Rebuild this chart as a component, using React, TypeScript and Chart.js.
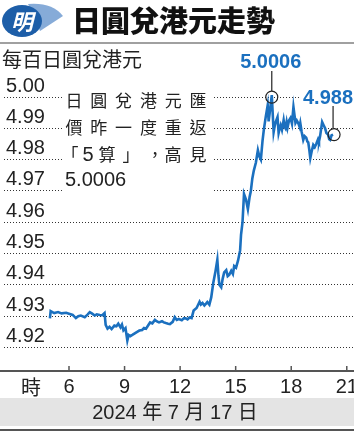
import React, { useEffect, useRef } from "react";
import { Chart, registerables } from "chart.js";

Chart.register(...registerables);

// ---- data ----
const hours = [
  4.97, 5.01, 5.2, 5.41, 5.6, 5.85, 6.0, 6.2, 6.37, 6.5, 6.64, 6.85, 7.0, 7.12, 7.25, 7.39, 7.5, 7.66, 7.8, 7.92,
  7.98, 8.08, 8.19, 8.3, 8.45, 8.56, 8.66, 8.78, 8.86, 8.94, 9.05, 9.15, 9.22, 9.31, 9.42, 9.55, 9.68, 9.8, 9.95,
  10.05, 10.16, 10.27, 10.38, 10.5, 10.64, 10.75, 10.86, 11.02, 11.12, 11.23, 11.35, 11.45, 11.6, 11.71, 11.82,
  11.93, 12.09, 12.2, 12.3, 12.4, 12.51, 12.62, 12.73, 12.89, 13.05, 13.12, 13.21, 13.31, 13.4, 13.47, 13.58,
  13.68, 13.79, 13.9, 14.01, 14.07, 14.12, 14.22, 14.3, 14.38, 14.49, 14.57, 14.65, 14.76, 14.85, 14.92, 15.02,
  15.13, 15.24, 15.29, 15.37, 15.45, 15.56, 15.66, 15.75, 15.82, 15.9, 15.98, 16.09, 16.2, 16.28, 16.36, 16.45,
  16.52, 16.62, 16.73, 16.78, 16.86, 16.95, 17.05, 17.1, 17.16, 17.26, 17.32, 17.38, 17.43, 17.5, 17.59, 17.64,
  17.69, 17.75, 17.8, 17.88, 17.96, 18.04, 18.12, 18.18, 18.23, 18.3, 18.39, 18.45, 18.49, 18.56, 18.65, 18.72,
  18.81, 18.87, 18.92, 18.98, 19.03, 19.1, 19.19, 19.27, 19.35, 19.45, 19.5, 19.56, 19.62, 19.67, 19.75, 19.83,
  19.9, 19.99, 20.05, 20.1, 20.18, 20.26,
];
const rates = [
  4.9293, 4.9316, 4.931, 4.9313, 4.9309, 4.9311, 4.9308, 4.9304, 4.9294, 4.93, 4.9302, 4.9297, 4.9305, 4.9313,
  4.9308, 4.9302, 4.9306, 4.9304, 4.9303, 4.931, 4.9272, 4.926, 4.9266, 4.9259, 4.927, 4.9268, 4.9276, 4.9264,
  4.9273, 4.9255, 4.9262, 4.9222, 4.924, 4.9236, 4.924, 4.9245, 4.925, 4.9254, 4.9256, 4.9262, 4.926, 4.927,
  4.928, 4.9277, 4.9288, 4.9283, 4.928, 4.9284, 4.928, 4.9278, 4.9276, 4.9275, 4.9282, 4.9297, 4.9288, 4.9291,
  4.9287, 4.9293, 4.9293, 4.929, 4.9296, 4.9294, 4.9318, 4.9326, 4.9346, 4.9337, 4.9342, 4.9334, 4.934, 4.9345,
  4.9337, 4.936, 4.9406, 4.944, 4.948, 4.943, 4.94, 4.9392, 4.942, 4.944, 4.9447, 4.9428, 4.9432, 4.9445,
  4.9435, 4.946, 4.9455, 4.9478, 4.951, 4.956, 4.96, 4.969, 4.9672, 4.9642, 4.968, 4.97, 4.974, 4.9765, 4.979,
  4.983, 4.981, 4.98, 4.986, 4.9895, 4.9935, 4.9974, 4.9922, 4.996, 5.0006, 4.9888, 4.9905, 4.992, 4.9936,
  4.9885, 4.99, 4.991, 4.9895, 4.9926, 4.9905, 4.99, 4.992, 4.9902, 4.9925, 4.9933, 4.9915, 4.9968, 4.994,
  4.9917, 4.9925, 4.9915, 4.9905, 4.9917, 4.989, 4.9863, 4.9875, 4.987, 4.9858, 4.9855, 4.983, 4.9805, 4.9825,
  4.9847, 4.984, 4.985, 4.9865, 4.9858, 4.9875, 4.99, 4.992, 4.991, 4.99, 4.9885, 4.988, 4.9865, 4.9863,
  4.9878, 4.988,
];
const xTicks = [6, 9, 12, 15, 18, 21];
const yTicks = [4.92, 4.93, 4.94, 4.95, 4.96, 4.97, 4.98, 4.99, 5.0];
const titleText = "日圓兌港元走勢";
const logoChar = "明";
const unitText = "每百日圓兌港元";
const hourText = "時";
const dateText = "2024 年 7 月 17 日";
const noteLine1 = "日圓兌港元匯";
const noteLine2 = "價昨一度重返";
const noteLine3 = ["「", "5", "算", "」", "，", "高", "見"];
const noteLine4 = "5.0006";
const peakLabel = "5.0006";
const lastLabel = "4.988";

const LATIN = "'Liberation Sans', Arial, sans-serif";
const CJK = "'Noto Sans CJK TC', 'Noto Sans CJK SC', sans-serif";
const MIXED = "'Liberation Sans', 'Noto Sans CJK TC', sans-serif";
const BLUE = "#1b70bf";

export default function App() {
  const ref = useRef<HTMLCanvasElement>(null);

  useEffect(() => {
    const canvas = ref.current;
    if (!canvas) return;

    const deco = {
      id: "deco",
      beforeDraw(chart: any) {
        const { ctx } = chart;
        ctx.save();
        ctx.fillStyle = "#ffffff";
        ctx.fillRect(0, 0, chart.width, chart.height);

        // logo
        ctx.fillStyle = "#86abd8";
        ctx.beginPath();
        ctx.moveTo(28, 4);
        ctx.quadraticCurveTo(52, 2, 63, 16);
        ctx.lineTo(40, 31);
        ctx.closePath();
        ctx.fill();
        ctx.fillStyle = "#1d5ea8";
        ctx.beginPath();
        ctx.ellipse(22, 21, 20, 16, 0, 0, Math.PI * 2);
        ctx.fill();
        ctx.fillStyle = "#ffffff";
        ctx.font = `italic bold 22px ${CJK}`;
        ctx.textAlign = "center";
        ctx.textBaseline = "middle";
        ctx.fillText(logoChar, 22, 22);

        // title
        ctx.fillStyle = "#111";
        ctx.font = `900 29px ${CJK}`;
        ctx.textAlign = "left";
        ctx.fillText(titleText, 72, 21);

        // separator
        ctx.strokeStyle = "#a0a0a0";
        ctx.lineWidth = 2;
        ctx.beginPath();
        ctx.moveTo(0, 43);
        ctx.lineTo(354, 43);
        ctx.stroke();

        // unit
        ctx.fillStyle = "#222";
        ctx.font = `20px ${CJK}`;
        ctx.fillText(unitText, 2, 59);
        ctx.restore();
      },
      beforeDatasetsDraw(chart: any) {
        const { ctx, chartArea, scales } = chart;
        const xs = scales.x;
        ctx.save();
        // note box
        ctx.fillStyle = "#ffffff";
        ctx.fillRect(62, 88, 150, 107);
        ctx.fillRect(300, 89, 54, 17);

        ctx.fillStyle = "#222";
        ctx.textAlign = "center";
        ctx.textBaseline = "middle";
        ctx.font = `17px ${CJK}`;
        const lineYs = [101, 128, 155, 180];
        Array.from(noteLine1).forEach((c, i) => ctx.fillText(c, 74 + i * 24.8, lineYs[0]));
        Array.from(noteLine2).forEach((c, i) => ctx.fillText(c, 74 + i * 24.8, lineYs[1]));
        const l3x = [70, 88, 107, 131, 155, 173, 198];
        noteLine3.forEach((c, i) => {
          ctx.font = c === "5" ? `20px ${LATIN}` : `17px ${CJK}`;
          ctx.fillText(c, l3x[i], lineYs[2]);
        });
        ctx.font = `20px ${LATIN}`;
        ctx.textAlign = "left";
        ctx.fillText(noteLine4, 65, lineYs[3]);

        // x axis line + ticks
        const yb = chartArea.bottom;
        ctx.strokeStyle = "#555";
        ctx.lineWidth = 2;
        ctx.beginPath();
        ctx.moveTo(0, yb + 1);
        ctx.lineTo(354, yb + 1);
        ctx.stroke();
        ctx.lineWidth = 1.5;
        ctx.fillStyle = "#222";
        ctx.font = `20px ${LATIN}`;
        ctx.textAlign = "center";
        xTicks.forEach((t) => {
          const px = xs.getPixelForValue(t);
          ctx.beginPath();
          ctx.moveTo(px, yb - 4);
          ctx.lineTo(px, yb);
          ctx.stroke();
          ctx.fillText(String(t), px, yb + 17);
        });
        ctx.font = `20px ${CJK}`;
        ctx.fillText(hourText, 31, yb + 17);

        // date bar
        ctx.fillStyle = "#e4e4e4";
        ctx.fillRect(0, 398, 354, 28);
        ctx.fillStyle = "#222";
        ctx.font = `20px ${MIXED}`;
        ctx.fillText(dateText, 175, 413);
        ctx.strokeStyle = "#555";
        ctx.lineWidth = 2;
        ctx.beginPath();
        ctx.moveTo(0, 430);
        ctx.lineTo(354, 430);
        ctx.stroke();
        ctx.restore();
      },
      afterDatasetsDraw(chart: any) {
        const { ctx, scales } = chart;
        const xs = scales.x;
        const ys = scales.y;
        let pi = 0;
        rates.forEach((r, i) => {
          if (r > rates[pi]) pi = i;
        });
        const li = rates.length - 1;
        const px = xs.getPixelForValue(hours[pi]);
        const py = ys.getPixelForValue(rates[pi]) + 2;
        const lx = xs.getPixelForValue(hours[li]) + 1;
        const ly = ys.getPixelForValue(rates[li]);
        ctx.save();
        ctx.strokeStyle = "#222";
        ctx.lineWidth = 1.2;
        ctx.beginPath();
        ctx.arc(px, py, 6, 0, Math.PI * 2);
        ctx.stroke();
        ctx.beginPath();
        ctx.moveTo(px, 71);
        ctx.lineTo(px, py - 6);
        ctx.stroke();
        ctx.beginPath();
        ctx.arc(lx, ly, 6, 0, Math.PI * 2);
        ctx.stroke();
        ctx.beginPath();
        ctx.moveTo(lx - 1, 106);
        ctx.lineTo(lx - 1, ly - 6);
        ctx.stroke();

        ctx.fillStyle = BLUE;
        ctx.font = `bold 20px ${LATIN}`;
        ctx.textAlign = "center";
        ctx.textBaseline = "middle";
        ctx.fillText(peakLabel, px - 1, 62);
        ctx.fillText(lastLabel, 328, 98);
        ctx.restore();
      },
    };

    const chart = new Chart(canvas, {
      type: "line",
      data: {
        datasets: [
          {
            data: hours.map((h, i) => ({ x: h, y: rates[i] })),
            borderColor: BLUE,
            borderWidth: 2.6,
            pointRadius: 0,
            tension: 0,
            fill: false,
          },
        ],
      },
      options: {
        responsive: false,
        animation: false,
        devicePixelRatio: 1,
        layout: { padding: { top: 80, bottom: 61, left: 0, right: 0 } },
        plugins: { legend: { display: false }, tooltip: { enabled: false } },
        scales: {
          x: {
            type: "linear",
            display: false,
            min: 2.49,
            max: 21.39,
          },
          y: {
            type: "linear",
            min: 4.91281,
            max: 5.00543,
            afterBuildTicks: (axis: any) => {
              axis.ticks = yTicks.map((v) => ({ value: v }));
            },
            grid: { color: "#333", lineWidth: 1, drawTicks: false },
            border: { display: false, dash: [1, 2] },
            ticks: {
              mirror: true,
              padding: 2,
              labelOffset: -11,
              color: "#222",
              font: { family: LATIN, size: 20 },
              callback: (v: any) => Number(v).toFixed(2),
            },
          },
        },
      },
      plugins: [deco],
    });
    return () => chart.destroy();
  }, []);

  return (
    <div style={{ position: "fixed", left: 0, top: 0, width: 354, height: 431, background: "#fff" }}>
      <canvas ref={ref} width={354} height={431} style={{ display: "block" }} />
    </div>
  );
}
